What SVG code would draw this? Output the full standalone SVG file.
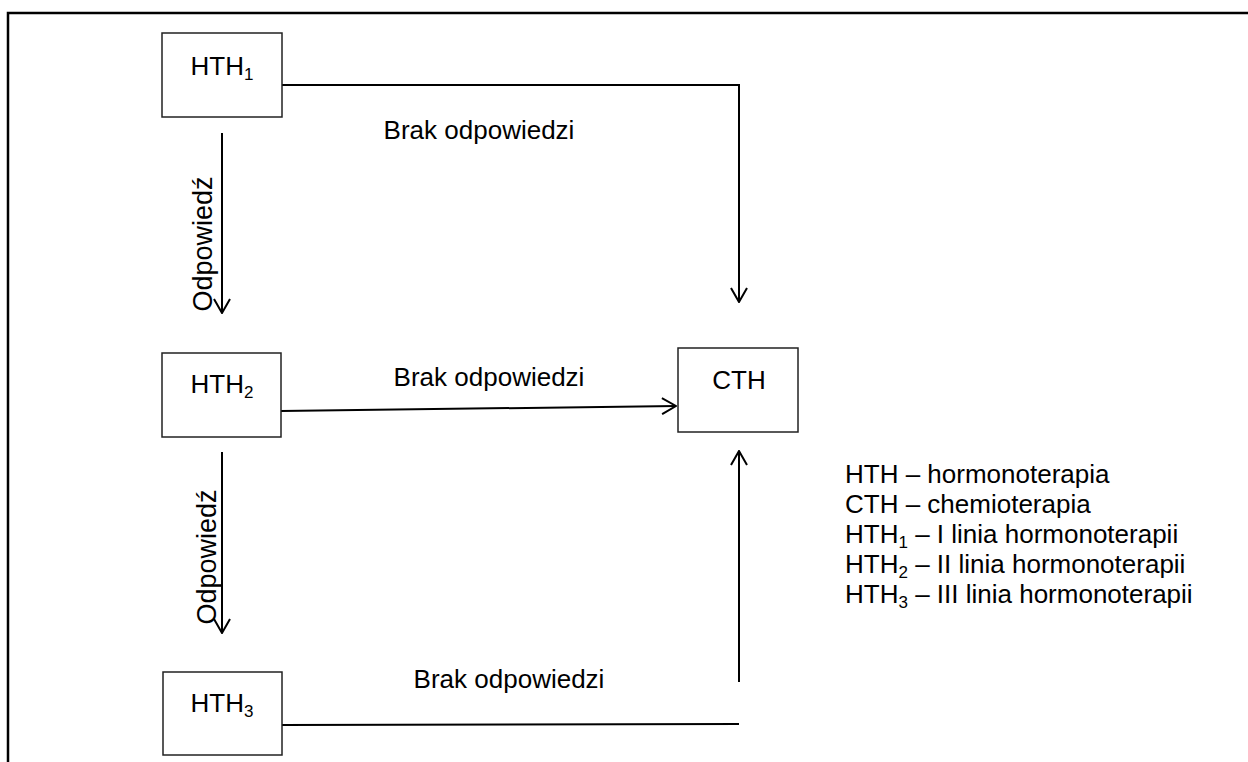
<svg xmlns="http://www.w3.org/2000/svg" width="1248" height="762" viewBox="0 0 1248 762">
<defs>
<style>
text{font-family:"Liberation Sans",Arial,sans-serif;font-size:26px;fill:#000}
.box{fill:#fff;stroke:#222;stroke-width:1.5}
.ln{fill:none;stroke:#000;stroke-width:2}
.sub{font-size:17px}
.vt{font-size:27px}
</style>
<marker id="arr" viewBox="0 0 16 18" refX="15" refY="9" markerWidth="16" markerHeight="18" markerUnits="userSpaceOnUse" orient="auto">
<path d="M1,1 L15,9 L1,17" fill="none" stroke="#000" stroke-width="2"/>
</marker>
</defs>
<rect width="1248" height="762" fill="#fff"/>
<path d="M8,762 V13 H1248" fill="none" stroke="#000" stroke-width="2.5"/>
<g id="connectors">
<polyline class="ln" points="282,85 739,85 739,302" marker-end="url(#arr)"/>
<line class="ln" x1="281" y1="411" x2="676" y2="406" marker-end="url(#arr)"/>
<polyline class="ln" points="282,725 739,724"/>
<line class="ln" x1="739" y1="682" x2="739" y2="451" marker-end="url(#arr)"/>
<line class="ln" x1="222" y1="133" x2="222" y2="313" marker-end="url(#arr)"/>
<line class="ln" x1="222" y1="452" x2="222" y2="633" marker-end="url(#arr)"/>
<text x="479" y="139" text-anchor="middle">Brak odpowiedzi</text>
<text x="489" y="386" text-anchor="middle">Brak odpowiedzi</text>
<text x="509" y="688" text-anchor="middle">Brak odpowiedzi</text>
<text class="vt" transform="translate(212,244) rotate(-90)" text-anchor="middle">Odpowiedź</text>
<text class="vt" transform="translate(216,557) rotate(-90)" text-anchor="middle">Odpowiedź</text>
</g>
<g id="hth1">
<rect class="box" x="162" y="33" width="120" height="84"/>
<text x="222" y="75" text-anchor="middle">HTH<tspan class="sub" dy="5">1</tspan></text>
</g>
<g id="hth2">
<rect class="box" x="162" y="353" width="119" height="84"/>
<text x="222" y="393" text-anchor="middle">HTH<tspan class="sub" dy="5">2</tspan></text>
</g>
<g id="hth3">
<rect class="box" x="163" y="672" width="119" height="83"/>
<text x="222" y="712" text-anchor="middle">HTH<tspan class="sub" dy="5">3</tspan></text>
</g>
<g id="cth">
<rect class="box" x="678" y="348" width="120" height="84"/>
<text x="739" y="389" text-anchor="middle">CTH</text>
</g>
<g id="legend">
<text x="845" y="483">HTH – hormonoterapia</text>
<text x="845" y="513">CTH – chemioterapia</text>
<text x="845" y="543">HTH<tspan class="sub" dy="5">1</tspan><tspan dy="-5"> – I linia hormonoterapii</tspan></text>
<text x="845" y="573">HTH<tspan class="sub" dy="5">2</tspan><tspan dy="-5"> – II linia hormonoterapii</tspan></text>
<text x="845" y="603">HTH<tspan class="sub" dy="5">3</tspan><tspan dy="-5"> – III linia hormonoterapii</tspan></text>
</g>
</svg>
